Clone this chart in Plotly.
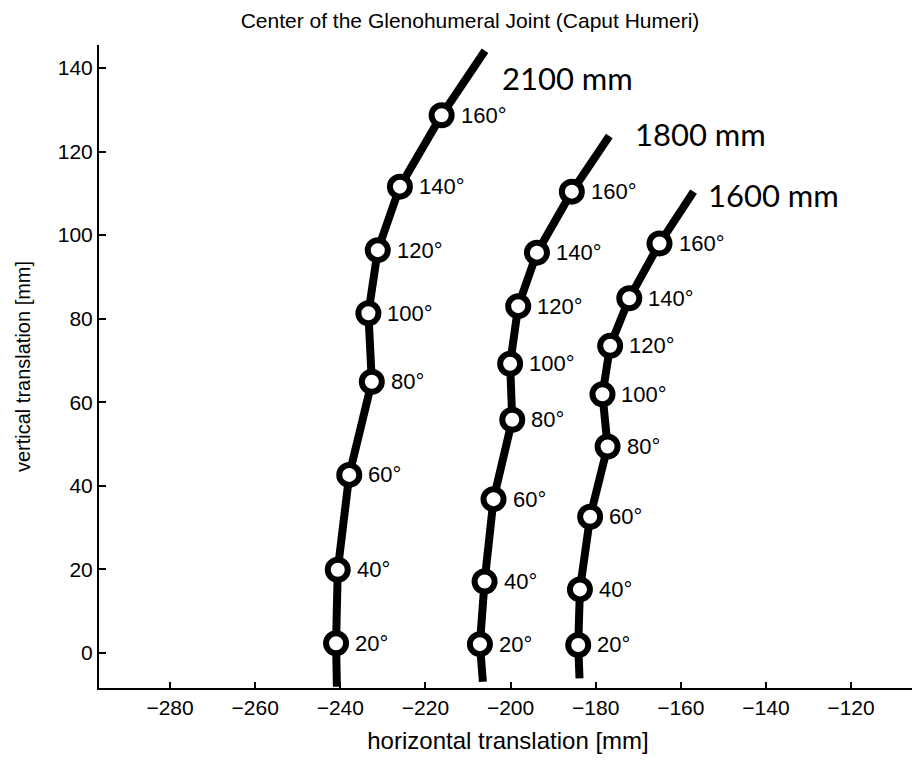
import plotly.graph_objects as go

angles = [20, 40, 60, 80, 100, 120, 140, 160]
angle_labels = [f"{a}°" for a in angles]

series_names = ["2100 mm", "1800 mm", "1600 mm"]

# marker positions (x = horizontal, y = vertical translation, mm)
x_2100 = [-241.0, -240.6, -237.9, -232.6, -233.4, -231.2, -226.0, -216.2]
y_2100 = [2.3, 19.9, 42.6, 64.9, 81.3, 96.4, 111.6, 128.7]
x_1800 = [-207.2, -206.1, -204.0, -199.6, -200.1, -198.2, -193.8, -185.6]
y_1800 = [2.1, 17.1, 36.8, 55.8, 69.2, 83.0, 95.8, 110.4]
x_1600 = [-184.1, -183.7, -181.3, -177.2, -178.4, -176.6, -172.1, -165.0]
y_1600 = [1.9, 15.2, 32.6, 49.4, 61.9, 73.5, 84.9, 98.0]

# curve end points (start below 20°, end above 160°)
start_x = [-240.8, -206.5, -183.8]
start_y = [-8.1, -6.9, -6.1]
end_x = [-206.0, -176.8, -157.0]
end_y = [144.1, 123.7, 110.4]

xs = [x_2100, x_1800, x_1600]
ys = [y_2100, y_1800, y_1600]

fig = go.Figure()
annotations = []
for i, name in enumerate(series_names):
    lx = [start_x[i]] + xs[i] + [end_x[i]]
    ly = [start_y[i]] + ys[i] + [end_y[i]]
    fig.add_trace(go.Scatter(x=lx, y=ly, mode="lines",
                             line=dict(color="black", width=8),
                             showlegend=False, hoverinfo="skip"))
    fig.add_trace(go.Scatter(x=xs[i], y=ys[i], mode="markers",
                             marker=dict(size=20, color="white",
                                         line=dict(color="black", width=6)),
                             showlegend=False, name=name))
    for xv, yv, lab in zip(xs[i], ys[i], angle_labels):
        annotations.append(dict(x=xv, y=yv, text=lab, showarrow=False,
                                xanchor="left", yanchor="middle", xshift=17,
                                font=dict(family="Liberation Sans", size=22, color="black")))

shifts = [(15, -27), (24, 2), (12, -3)]
for i, name in enumerate(series_names):
    annotations.append(dict(x=end_x[i], y=end_y[i], text=name, showarrow=False,
                            xanchor="left", yanchor="middle",
                            xshift=shifts[i][0], yshift=shifts[i][1],
                            font=dict(family="Lato", size=31, color="black")))

fig.update_layout(
    width=912, height=753,
    paper_bgcolor="white", plot_bgcolor="white",
    margin=dict(l=91, r=3, t=37, b=73),
    title=dict(text="Center of the Glenohumeral Joint (Caput Humeri)",
               x=462/912, xanchor="center", y=1 - 13/753, yanchor="middle",
               font=dict(family="Liberation Sans", size=21, color="black")),
    annotations=annotations,
    font=dict(family="Liberation Sans", color="black"),
)
fig.update_xaxes(range=[-296.7, -104.5], tickvals=[-280, -260, -240, -220, -200, -180, -160, -140, -120],
                 ticktext=["\u2212280", "\u2212260", "\u2212240", "\u2212220", "\u2212200", "\u2212180", "\u2212160", "\u2212140", "\u2212120"],
                 showgrid=False, zeroline=False, showline=True, linecolor="black", linewidth=2,
                 ticks="inside", ticklen=6, tickcolor="black", tickwidth=1.5,
                 tickfont=dict(size=21, family="Liberation Sans"),
                 title=dict(text="horizontal translation [mm]", standoff=14,
                            font=dict(size=24, family="Liberation Sans")))
fig.update_yaxes(range=[-8.4, 145.5], tickvals=[0, 20, 40, 60, 80, 100, 120, 140],
                 showgrid=False, zeroline=False, showline=True, linecolor="black", linewidth=2,
                 ticks="inside", ticklen=7, tickcolor="black", tickwidth=1.5,
                 tickfont=dict(size=21, family="Liberation Sans"),
                 title=dict(text="vertical translation [mm]", standoff=22,
                            font=dict(size=20, family="Liberation Sans")))

fig.write_html("out.html")
